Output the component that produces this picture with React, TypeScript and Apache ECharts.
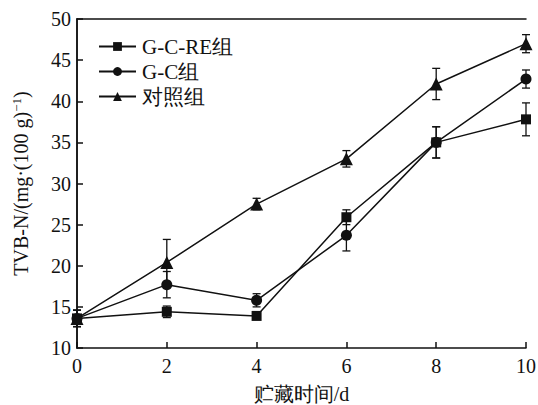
import React, { useEffect, useRef } from "react";
import * as echarts from "echarts";

const days = [0, 2, 4, 6, 8, 10];
const gcreValues = [13.6, 14.4, 13.9, 25.9, 35.0, 37.8];
const gcreErrors = [1.0, 0.7, 0.3, 0.9, 1.9, 2.0];
const gcValues = [13.6, 17.7, 15.8, 23.7, 35.0, 42.7];
const gcErrors = [1.0, 1.6, 0.8, 1.9, 1.9, 1.1];
const ctrlValues = [13.6, 20.4, 27.5, 33.0, 42.1, 47.0];
const ctrlErrors = [1.0, 2.8, 0.7, 1.0, 1.9, 1.1];
const seriesNames = ["G-C-RE组", "G-C组", "对照组"];
const xTicks = [0, 2, 4, 6, 8, 10];
const yTicks = [10, 15, 20, 25, 30, 35, 40, 45, 50];

const FONT = "'Liberation Serif', 'Times New Roman', serif";

function errorSeries(values: number[], errors: number[]) {
  return {
    type: "custom",
    silent: true,
    z: 3,
    data: days.map((d, i) => [d, values[i], errors[i]]),
    renderItem: (params: any, api: any) => {
      const x = api.value(0);
      const y = api.value(1);
      const e = api.value(2);
      const top = api.coord([x, y + e]);
      const bot = api.coord([x, y - e]);
      const hw = 4;
      const style = { stroke: "#111", lineWidth: 1.3 };
      return {
        type: "group",
        children: [
          { type: "line", shape: { x1: top[0], y1: top[1], x2: bot[0], y2: bot[1] }, style },
          { type: "line", shape: { x1: top[0] - hw, y1: top[1], x2: top[0] + hw, y2: top[1] }, style },
          { type: "line", shape: { x1: bot[0] - hw, y1: bot[1], x2: bot[0] + hw, y2: bot[1] }, style },
        ],
      };
    },
  };
}

function lineSeries(name: string, values: number[], symbol: string, size: number) {
  return {
    type: "line",
    name,
    data: days.map((d, i) => [d, values[i]]),
    symbol,
    symbolSize: size,
    showAllSymbol: true,
    z: 4,
    lineStyle: { color: "#111", width: 1.5 },
    itemStyle: { color: "#111" },
  };
}

export default function App() {
  const ref = useRef<HTMLDivElement>(null);
  useEffect(() => {
    if (!ref.current) return;
    const chart = echarts.init(ref.current, undefined, { renderer: "svg" });
    chart.setOption({
      animation: false,
      backgroundColor: "#fff",
      textStyle: { fontFamily: FONT },
      grid: { left: 77, right: 12, top: 19, bottom: 57, outerBoundsMode: "none", containLabel: false },
      legend: {
        orient: "vertical",
        left: 93,
        top: 31,
        itemWidth: 37,
        itemHeight: 11,
        itemGap: 4,
        data: seriesNames,
        textStyle: { fontFamily: FONT, fontSize: 21, color: "#111", padding: [0, 0, 0, 1] },
      },
      xAxis: [
        {
          type: "value",
          min: 0,
          max: 10,
          interval: 2,
          name: "贮藏时间/d",
          nameLocation: "middle",
          nameGap: 36,
          nameTextStyle: { fontFamily: FONT, fontSize: 20, color: "#111" },
          axisLine: { lineStyle: { color: "#111", width: 1.5 } },
          axisTick: { inside: true, length: 6, lineStyle: { color: "#111", width: 1.5 } },
          axisLabel: {
            fontFamily: FONT,
            fontSize: 20,
            color: "#111",
            margin: 8,
            formatter: (v: number) => (xTicks.includes(v) ? String(v) : ""),
          },
          splitLine: { show: false },
        },
        {
          type: "value",
          position: "top",
          min: 0,
          max: 10,
          axisLine: { show: true, lineStyle: { color: "#111", width: 1.5 } },
          axisTick: { show: false },
          axisLabel: { show: false },
          splitLine: { show: false },
        },
      ],
      yAxis: [
        {
          type: "value",
          min: 10,
          max: 50,
          interval: 5,
          name: "{a|TVB-N/(mg·(100 g)}{s|−1}{a|)}",
          nameLocation: "middle",
          nameGap: 46,
          nameRotate: 90,
          nameTextStyle: {
            color: "#111",
            rich: {
              a: { fontFamily: FONT, fontSize: 20, color: "#111" },
              s: { fontFamily: FONT, fontSize: 13, color: "#111", verticalAlign: "top", padding: [0, 0, 8, 0] },
            },
          },
          axisLine: { show: true, lineStyle: { color: "#111", width: 1.5 } },
          axisTick: { inside: true, length: 6, lineStyle: { color: "#111", width: 1.5 } },
          axisLabel: {
            fontFamily: FONT,
            fontSize: 20,
            color: "#111",
            margin: 6,
            formatter: (v: number) => (yTicks.includes(v) ? String(v) : ""),
          },
          splitLine: { show: false },
        },
        {
          type: "value",
          position: "right",
          min: 10,
          max: 50,
          axisLine: { show: true, lineStyle: { color: "#111", width: 1.5 } },
          axisTick: { show: false },
          axisLabel: { show: false },
          splitLine: { show: false },
        },
      ],
      series: [
        errorSeries(gcreValues, gcreErrors),
        errorSeries(gcValues, gcErrors),
        errorSeries(ctrlValues, ctrlErrors),
        lineSeries(seriesNames[0], gcreValues, "rect", 10),
        lineSeries(seriesNames[1], gcValues, "circle", 11),
        lineSeries(seriesNames[2], ctrlValues, "triangle", 13),
      ],
    });
    return () => chart.dispose();
  }, []);
  return <div ref={ref} style={{ width: 538, height: 405, position: "absolute", left: 0, top: 0 }} />;
}
